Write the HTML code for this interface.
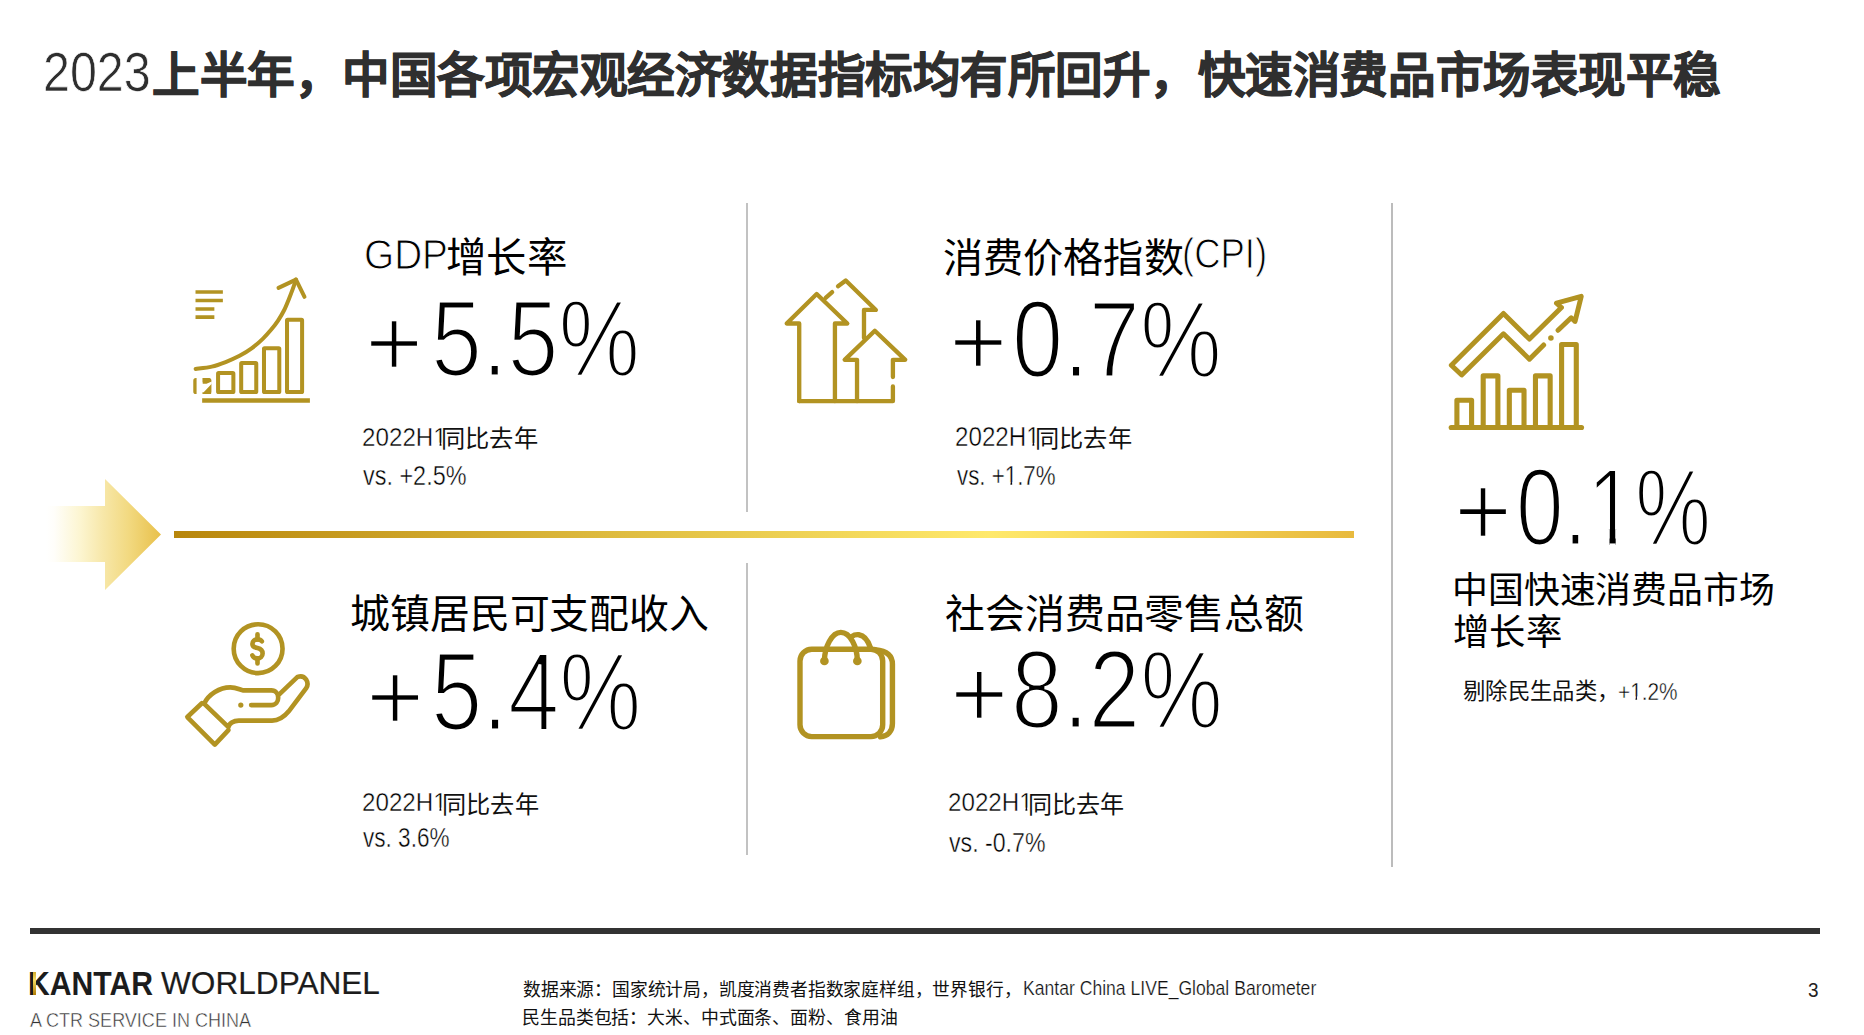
<!DOCTYPE html>
<html lang="zh-CN">
<head>
<meta charset="utf-8">
<title>2023上半年宏观经济数据</title>
<style>
*{margin:0;padding:0;box-sizing:border-box}
html,body{width:1864px;height:1035px;overflow:hidden;background:#fff}
body{font-family:"Liberation Sans",sans-serif;color:#000;position:relative}
.r{position:absolute;white-space:nowrap;line-height:1;transform-origin:0 0}
.o{display:inline-block;clip-path:polygon(0 0,100% 0,100% 70%,59.5% 70%,59.5% 100%,46.5% 100%,46.5% 70%,0 70%)}
.vl{position:absolute;width:2.2px;background:#c2c2c2}
svg{position:absolute;left:0;top:0;overflow:visible}
.g{fill:none;stroke:#b29322;stroke-linecap:round;stroke-linejoin:round}
.gf{fill:#b29322;stroke:none}
</style>
</head>
<body>

<!-- dividers -->
<div class="vl" style="left:746.3px;top:203.2px;height:308.4px"></div>
<div class="vl" style="left:746.3px;top:563px;height:291.7px"></div>
<div class="vl" style="left:1391px;top:203.2px;height:663.4px;width:2px;background:#bcbcbc"></div>

<!-- gold line -->
<div style="position:absolute;left:174px;top:531px;width:1180px;height:7px;background:linear-gradient(90deg,#b8860b 0%,#ffe96b 69%,#e8ba3e 100%)"></div>

<!-- footer rule -->
<div style="position:absolute;left:30px;top:928px;width:1790px;height:5.8px;background:#323232"></div>

<svg width="1864" height="1035" viewBox="0 0 1864 1035">
<defs>
<linearGradient id="ag" x1="0" x2="1" y1="0" y2="0"><stop offset="0" stop-color="#ffffff"/><stop offset=".07" stop-color="#fffefa"/><stop offset=".3" stop-color="#fcf5d0"/><stop offset=".5" stop-color="#f7e7a8"/><stop offset=".72" stop-color="#f2d980"/><stop offset="1" stop-color="#e8c04a"/></linearGradient>
</defs>
<!-- big arrow -->
<path d="M46 506H105V479L161 534.500L105 590V562H46Z" fill="url(#ag)"/>

<!-- icon 1: growth chart -->
<g transform="translate(170,260) scale(0.154589)">
 <g class="g" stroke-width="24" style="stroke-linecap:butt">
  <path d="M165 207H342M165 262H342M165 317H287M165 370H287"/>
  <path d="M208 909H905" stroke-width="30"/>
 </g>
 <g class="g" stroke-width="26">
  <path d="M166 705C183.3 702.5 237.7 697.5 270 690C302.3 682.5 330.0 671.7 360 660C390.0 648.3 421.7 635.0 450 620C478.3 605.0 505.0 588.3 530 570C555.0 551.7 579.2 530.0 600 510C620.8 490.0 638.3 470.0 655 450C671.7 430.0 686.2 410.8 700 390C713.8 369.2 726.3 348.3 738 325C749.7 301.7 760.5 273.3 770 250C779.5 226.7 787.5 205.5 795 185C802.5 164.5 811.7 136.7 815 127"/>
  <path d="M702 180L815 127L870 238"/>
  <rect x="311" y="731.5" width="99" height="123" rx="4"/>
  <rect x="460.5" y="667" width="97.5" height="187.5" rx="4"/>
  <rect x="608" y="570.5" width="99" height="284" rx="4"/>
  <rect x="757" y="387" width="97.5" height="467.5" rx="4"/>
  <rect x="163.5" y="777" width="91" height="77.5" rx="4"/>
 </g>
 <path class="gf" d="M210 765H258L266 775V867.5H210Z"/>
 <path d="M172 762H210V800H236L270 786V800L218 855H210V882H172Z" fill="#fff"/>
 <path d="M110 890H205V925H110Z" fill="#fff"/>
</g>

<!-- icon 2: arrows up -->
<g transform="translate(770,260) scale(0.154589)">
 <g class="g" stroke-width="28">
  <path d="M189 913V411H108L302 220L500 411H420V913"/>
  <path d="M189 913H795V818"/>
  <path d="M795 757V646H875L678 458L483 646H563V913"/>
  <path d="M440 170L490 133L685 323H608V505"/>
  <path d="M360 245L402 208"/>
 </g>
</g>

<!-- icon 3: bars with zigzag arrow -->
<g transform="translate(1430,280) scale(0.154639)">
 <g class="g" stroke-width="33">
  <path d="M137 954H980"/>
  <path d="M174 940V778H269V940"/>
  <path d="M344 940V620H439V940"/>
  <path d="M513 940V713H608V940"/>
  <path d="M682 940V620H777V940"/>
  <path d="M851 940V417H946V940"/>
 </g>
 <g class="g" stroke-width="32">
  <path d="M735 420L643 512L475 348L205 614L138 551L475 216L643 382L850 178L818 150L978 106L938 268L913 244L828 325"/>
 </g>
 <circle class="gf" cx="782" cy="375" r="18"/>
</g>

<!-- icon 4: hand with coin -->
<g transform="translate(170,600) scale(0.154589)">
 <g class="g" stroke-width="30">
  <circle cx="570" cy="315" r="158"/>
  <path d="M206 668L112 757L290 935L378 842"/>
  <path d="M222 668C250 610 320 565 390 565C430 565 450 580 475 585H655C715 585 715 680 655 680H525"/>
  <path d="M222 672L378 822C382 798 410 780 445 780H660C712 780 742 752 768 720L880 572C905 535 875 480 825 497L705 612"/>
 </g>
 <circle class="gf" cx="458" cy="680" r="17"/>
 <g class="g" stroke-width="30">
  <path d="M594 267C588 258 578 255 566 255C546 255 533 267 533 284C533 302 550 308 566 311C584 315 599 326 599 346C599 365 584 378 566 378C550 378 538 370 533 358"/>
  <path d="M566 222V255M566 378V410"/>
 </g>
</g>

<!-- icon 5: shopping bag -->
<g transform="translate(770,610) scale(0.154589)">
 <g class="g" stroke-width="35">
  <rect x="194" y="254" width="535" height="565" rx="76"/>
  <path d="M680 256C740 262 792 285 792 350V735C792 785 760 818 715 820"/>
  <path d="M352 330C352 240 400 145 458 145C520 145 565 240 565 330"/>
  <path d="M528 172C545 160 560 158 575 160C610 165 635 200 650 245"/>
 </g>
 <circle class="gf" cx="352" cy="330" r="28"/>
 <circle class="gf" cx="565" cy="330" r="28"/>
</g>

</svg>

<header>
<div class="r" style="left:43.3px;top:43.6px;font-size:56px;color:#2e2e2e;-webkit-text-stroke:0.7px #fff;transform:scale(0.8641,0.9977)">2023</div>
<div class="r" style="left:151.5px;top:51.8px;font-size:48px;color:#2f2f2f;font-weight:700;-webkit-text-stroke:0.9px #2f2f2f;transform:scale(0.9904,0.9904)">上半年，中国各项宏观经济数据指标均有所回升，快速消费品市场表现平稳</div>
</header>
<section>
<div class="r" style="left:364.4px;top:234.1px;font-size:42px;color:#000;-webkit-text-stroke:1.0px #fff;transform:scale(0.9226,1.0078)">GDP</div>
<div class="r" style="left:445.8px;top:238.4px;font-size:40px;color:#000;transform:scale(1.0107,1.0107)">增长率</div>
<div class="r" style="left:365.3px;top:293.5px;font-size:101px;color:#000;-webkit-text-stroke:2.7px #fff;transform:scale(0.9869,0.9809)">+</div>
<div class="r" style="left:430.6px;top:283.3px;font-size:110px;color:#000;-webkit-text-stroke:3.2px #fff;transform:scale(0.8333,0.9965)">5.5%</div>
<div class="r" style="left:361.5px;top:423.8px;font-size:27px;color:#000;-webkit-text-stroke:0.45px #fff;transform:scale(0.8968,0.9834)">2022H<span class="o">1</span></div>
<div class="r" style="left:441.3px;top:426.8px;font-size:24px;color:#111;transform:scale(1.0100,1.0100)">同比去年</div>
<div class="r" style="left:363.0px;top:462.9px;font-size:27px;color:#000;-webkit-text-stroke:0.45px #fff;transform:scale(0.8674,1.0037)">vs. +2.5%</div>
</section>
<section>
<div class="r" style="left:943.2px;top:237.8px;font-size:40px;color:#000;transform:scale(1.0027,1.0027)">消费价格指数</div>
<div class="r" style="left:1182.3px;top:232.5px;font-size:42px;color:#000;-webkit-text-stroke:1.0px #fff;transform:scale(0.8679,0.9943)">(CPI)</div>
<div class="r" style="left:949.0px;top:293.1px;font-size:101px;color:#000;-webkit-text-stroke:2.7px #fff;transform:scale(0.9938,0.9800)">+</div>
<div class="r" style="left:1012.0px;top:283.5px;font-size:110px;color:#000;-webkit-text-stroke:3.2px #fff;transform:scale(0.8364,0.9989)">0.7%</div>
<div class="r" style="left:955.0px;top:423.6px;font-size:27px;color:#000;-webkit-text-stroke:0.45px #fff;transform:scale(0.8953,0.9920)">2022H<span class="o">1</span></div>
<div class="r" style="left:1035.3px;top:426.8px;font-size:24px;color:#111;transform:scale(1.0100,1.0100)">同比去年</div>
<div class="r" style="left:956.5px;top:463.0px;font-size:27px;color:#000;-webkit-text-stroke:0.45px #fff;transform:scale(0.8264,1.0121)">vs. +<span class="o">1</span>.7%</div>
</section>
<section>
<div class="r" style="left:350.2px;top:594.0px;font-size:40px;color:#000;transform:scale(0.9971,0.9971)">城镇居民可支配收入</div>
<div class="r" style="left:366.0px;top:647.5px;font-size:101px;color:#000;-webkit-text-stroke:2.7px #fff;transform:scale(0.9880,0.9808)">+</div>
<div class="r" style="left:430.8px;top:636.3px;font-size:110px;color:#000;-webkit-text-stroke:3.2px #fff;transform:scale(0.8392,1.0068)">5.4%</div>
<div class="r" style="left:361.5px;top:789.2px;font-size:27px;color:#000;-webkit-text-stroke:0.45px #fff;transform:scale(0.8953,0.9844)">2022H<span class="o">1</span></div>
<div class="r" style="left:442.4px;top:792.5px;font-size:24px;color:#111;transform:scale(1.0076,1.0076)">同比去年</div>
<div class="r" style="left:363.0px;top:825.0px;font-size:27px;color:#000;-webkit-text-stroke:0.45px #fff;transform:scale(0.8360,1.0017)">vs. 3.6%</div>
</section>
<section>
<div class="r" style="left:944.7px;top:594.3px;font-size:40px;color:#000;transform:scale(0.9974,0.9974)">社会消费品零售总额</div>
<div class="r" style="left:949.5px;top:645.3px;font-size:101px;color:#000;-webkit-text-stroke:2.7px #fff;transform:scale(0.9917,0.9788)">+</div>
<div class="r" style="left:1010.9px;top:634.2px;font-size:110px;color:#000;-webkit-text-stroke:3.2px #fff;transform:scale(0.8454,1.0108)">8.2%</div>
<div class="r" style="left:948.2px;top:789.2px;font-size:27px;color:#000;-webkit-text-stroke:0.45px #fff;transform:scale(0.8954,0.9844)">2022H<span class="o">1</span></div>
<div class="r" style="left:1027.8px;top:793.2px;font-size:24px;color:#111;transform:scale(1.0036,1.0036)">同比去年</div>
<div class="r" style="left:949.0px;top:829.5px;font-size:27px;color:#000;-webkit-text-stroke:0.45px #fff;transform:scale(0.8571,0.9934)">vs. -0.7%</div>
</section>
<aside>
<div class="r" style="left:1453.8px;top:460.9px;font-size:101px;color:#000;-webkit-text-stroke:2.7px #fff;transform:scale(0.9853,1.0048)">+</div>
<div class="r" style="left:1515.9px;top:452.1px;font-size:110px;color:#000;-webkit-text-stroke:3.2px #fff;transform:scale(0.7778,1.0033)">0.<span class="o">1</span>%</div>
<div class="r" style="left:1452.4px;top:573.4px;font-size:36px;color:#000;transform:scale(0.9964,0.9964)">中国快速消费品市场</div>
<div class="r" style="left:1453.2px;top:615.0px;font-size:36px;color:#000;transform:scale(1.0099,1.0099)">增长率</div>
<div class="r" style="left:1463.0px;top:681.4px;font-size:22px;color:#111;transform:scale(1.0158,1.0158)">剔除民生品类，</div>
<div class="r" style="left:1617.5px;top:679.3px;font-size:25px;color:#000;-webkit-text-stroke:0.45px #fff;transform:scale(0.8330,0.9830)">+<span class="o">1</span>.2%</div>
</aside>
<footer>
<div class="r" style="left:28.2px;top:966.0px;font-size:33px;color:#1c1c1c;font-weight:700;transform:scale(0.9139,1.0224)">KANTAR</div>
<div class="r" style="left:160.8px;top:967.1px;font-size:33px;color:#1c1c1c;-webkit-text-stroke:0.2px #1c1c1c;transform:scale(0.9578,0.9761)">WORLDPANEL</div>
<div class="r" style="left:29.8px;top:1008.9px;font-size:21px;color:#333;-webkit-text-stroke:0.5px #fff;transform:scale(0.8584,0.9972)">A CTR SERVICE IN CHINA</div>
<div class="r" style="left:523.3px;top:981.4px;font-size:18px;color:#111;transform:scale(0.9887,0.9887)">数据来源：国家统计局，凯度消费者指数家庭样组，世界银行，</div>
<div class="r" style="left:1023.1px;top:978.0px;font-size:20px;color:#111;-webkit-text-stroke:0.25px #fff;transform:scale(0.8793,0.9978)">Kantar China LIVE_Global Barometer</div>
<div class="r" style="left:522.0px;top:1008.5px;font-size:18px;color:#111;transform:scale(0.9933,0.9933)">民生品类包括：大米、中式面条、面粉、食用油</div>
<div class="r" style="left:1808.0px;top:980.0px;font-size:20px;color:#222;transform:scale(0.9451,1.0134)">3</div>
</footer>

<!-- gold stem of K -->
<div style="position:absolute;left:33.3px;top:971.5px;width:2.7px;height:23.5px;background:linear-gradient(180deg,#cfa82c 0%,#f6dd62 35%,#b07c06 100%)"></div>

</body>
</html>
